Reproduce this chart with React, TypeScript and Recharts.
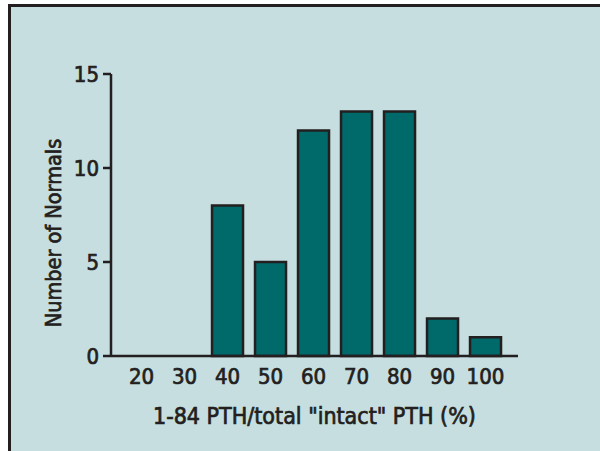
import React from 'react';
import { BarChart, Bar, XAxis, YAxis, Label } from 'recharts';

const categories = ['20', '30', '40', '50', '60', '70', '80', '90', '100'];
const counts = [0, 0, 8, 5, 12, 13, 13, 2, 1];
const yTicks = [0, 5, 10, 15];

const data = categories.map((name, i) => ({ name, value: counts[i] }));

const FONT = "'DejaVu Sans Condensed', 'DejaVu Sans', sans-serif";
const INK = '#231f20';

// normal weight thickened a little with a thin outline
const textStyle = { fill: INK, stroke: INK, strokeWidth: 0.7 };

export default function App() {
  return (
    <div style={{ position: 'absolute', left: 0, top: 0, width: 600, height: 451, background: '#fff', overflow: 'hidden' }}>
      {/* panel with dark top/left rule */}
      <div
        style={{
          position: 'absolute',
          left: 8,
          top: 4,
          width: 592,
          height: 447,
          boxSizing: 'border-box',
          borderTop: `3px solid ${INK}`,
          borderLeft: `3px solid ${INK}`,
          background: '#c6dedf',
        }}
      >
        <BarChart
          width={589}
          height={444}
          data={data}
          margin={{ top: 67, right: 82, left: 40, bottom: 20 }}
          barCategoryGap="14%"
          style={{ fontFamily: FONT, fontStretch: 'condensed' }}
        >
          <XAxis
            dataKey="name"
            height={75}
            padding={{ left: 9, right: 11 }}
            tickLine={false}
            tickSize={6}
            tickMargin={6}
            axisLine={{ stroke: INK, strokeWidth: 2.5 }}
            tick={{ ...textStyle, fontSize: 22 }}
            interval={0}
          >
            <Label
              value={'1-84 PTH/total "intact" PTH (%)'}
              position="insideBottom"
              offset={7}
              style={{ ...textStyle, fontSize: 23 }}
            />
          </XAxis>
          <YAxis
            width={60}
            domain={[0, 15]}
            ticks={yTicks}
            interval={0}
            tickSize={8}
            tickMargin={4}
            axisLine={{ stroke: INK, strokeWidth: 2.5 }}
            tickLine={{ stroke: INK, strokeWidth: 2.5 }}
            tick={{ ...textStyle, fontSize: 22 }}
          >
            <Label
              value="Number of Normals"
              angle={-90}
              position="insideLeft"
              offset={2}
              dy={18}
              style={{ ...textStyle, textAnchor: 'middle', fontSize: 21.5 }}
            />
          </YAxis>
          <Bar dataKey="value" fill="#006a6a" stroke={INK} strokeWidth={2.5} isAnimationActive={false} />
        </BarChart>
      </div>
    </div>
  );
}
